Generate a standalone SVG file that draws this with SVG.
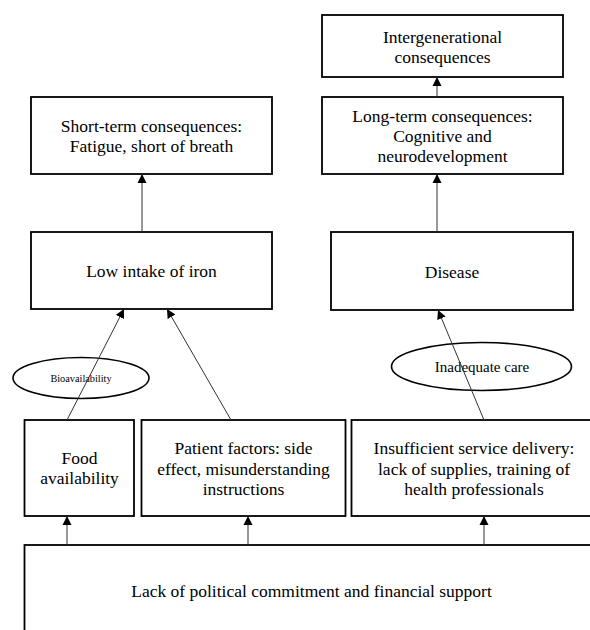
<svg xmlns="http://www.w3.org/2000/svg" width="590" height="630" viewBox="0 0 590 630">
<style>
.box{fill:#fff;stroke:#000;stroke-width:1.8}
.ell{fill:#fff;stroke:#000;stroke-width:1.6}
.conn line{stroke:#333;stroke-width:1;marker-end:url(#ah)}
</style>
<defs>
<marker id="ah" markerUnits="userSpaceOnUse" markerWidth="9" markerHeight="10" refX="9" refY="5" orient="auto">
<path d="M0,0.5 L9,5 L0,9.5 z" fill="#000"/>
</marker>
</defs>
<rect width="590" height="630" fill="#fff"/>

<g id="bottom">
<rect class="box" x="24.5" y="545" width="580" height="100"/>
<text style="font-family:'Liberation Serif',serif;font-size:17.5px" text-anchor="middle" x="311.5" y="597">Lack of political commitment and financial support</text>
</g>

<g id="inter">
<rect class="box" x="322" y="15" width="241" height="62"/>
<text style="font-family:'Liberation Serif',serif;font-size:17.5px" text-anchor="middle" x="442.5" y="43">Intergenerational</text>
<text style="font-family:'Liberation Serif',serif;font-size:17.5px" text-anchor="middle" x="442.5" y="63">consequences</text>
</g>

<g id="longterm">
<rect class="box" x="322" y="97" width="241" height="77"/>
<text style="font-family:'Liberation Serif',serif;font-size:17.5px" text-anchor="middle" x="442.5" y="122">Long-term consequences:</text>
<text style="font-family:'Liberation Serif',serif;font-size:17.5px" text-anchor="middle" x="442.5" y="142">Cognitive and</text>
<text style="font-family:'Liberation Serif',serif;font-size:17.5px" text-anchor="middle" x="442.5" y="162">neurodevelopment</text>
</g>

<g id="shortterm">
<rect class="box" x="31" y="97" width="241" height="77"/>
<text style="font-family:'Liberation Serif',serif;font-size:17.5px" text-anchor="middle" x="151.5" y="132">Short-term consequences:</text>
<text style="font-family:'Liberation Serif',serif;font-size:17.5px" text-anchor="middle" x="151.5" y="152">Fatigue, short of breath</text>
</g>

<g id="lowintake">
<rect class="box" x="31" y="232" width="241" height="77"/>
<text style="font-family:'Liberation Serif',serif;font-size:17.5px" text-anchor="middle" x="151.5" y="277">Low intake of iron</text>
</g>

<g id="disease">
<rect class="box" x="331" y="232" width="242" height="78"/>
<text style="font-family:'Liberation Serif',serif;font-size:17.5px" text-anchor="middle" x="452" y="278">Disease</text>
</g>

<g id="food">
<rect class="box" x="24.5" y="420" width="109.5" height="96"/>
<text style="font-family:'Liberation Serif',serif;font-size:17.5px" text-anchor="middle" x="79.5" y="464">Food</text>
<text style="font-family:'Liberation Serif',serif;font-size:17.5px" text-anchor="middle" x="79.5" y="484">availability</text>
</g>

<g id="patient">
<rect class="box" x="141.5" y="420" width="204" height="96"/>
<text style="font-family:'Liberation Serif',serif;font-size:17.5px" text-anchor="middle" x="243.5" y="454">Patient factors: side</text>
<text style="font-family:'Liberation Serif',serif;font-size:17.5px" text-anchor="middle" x="243.5" y="475">effect, misunderstanding</text>
<text style="font-family:'Liberation Serif',serif;font-size:17.5px" text-anchor="middle" x="243.5" y="495">instructions</text>
</g>

<g id="service">
<rect class="box" x="351.5" y="420" width="245" height="96"/>
<text style="font-family:'Liberation Serif',serif;font-size:17.5px" text-anchor="middle" x="474" y="454">Insufficient service delivery:</text>
<text style="font-family:'Liberation Serif',serif;font-size:17.5px" text-anchor="middle" x="474" y="475">lack of supplies, training of</text>
<text style="font-family:'Liberation Serif',serif;font-size:17.5px" text-anchor="middle" x="474" y="495">health professionals</text>
</g>

<g id="bioavailability">
<ellipse class="ell" cx="81" cy="378" rx="68" ry="20.5"/>
<text style="font-family:'Liberation Serif',serif;font-size:10.3px" text-anchor="middle" x="81" y="382">Bioavailability</text>
</g>

<g id="inadequate">
<ellipse class="ell" cx="481.5" cy="366.5" rx="90" ry="24"/>
<text style="font-family:'Liberation Serif',serif;font-size:15px" text-anchor="middle" x="482" y="372">Inadequate care</text>
</g>

<g class="conn" id="connectors">
<line x1="437" y1="97" x2="437" y2="77"/>
<line x1="142" y1="232" x2="142" y2="174"/>
<line x1="437" y1="232" x2="437" y2="174"/>
<line x1="67" y1="420" x2="124" y2="309"/>
<line x1="231" y1="420" x2="167" y2="309"/>
<line x1="484" y1="420" x2="438" y2="310"/>
<line x1="67" y1="545" x2="67" y2="516"/>
<line x1="248" y1="545" x2="248" y2="516"/>
<line x1="484" y1="545" x2="484" y2="516"/>
</g>
</svg>
